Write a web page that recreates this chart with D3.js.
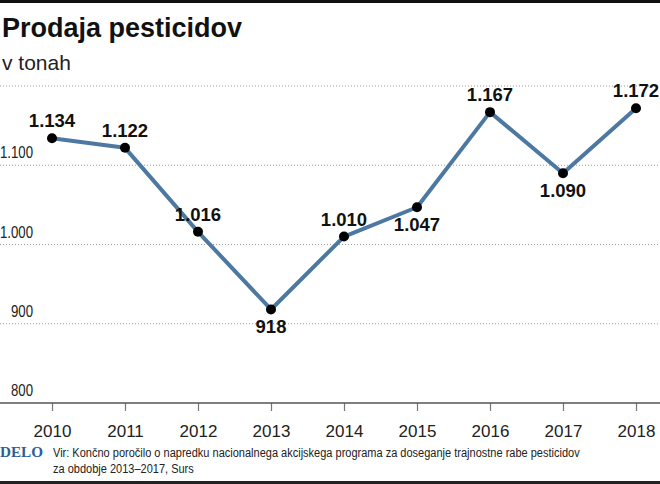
<!DOCTYPE html>
<html lang="sl">
<head>
<meta charset="UTF-8">
<title>Prodaja pesticidov</title>
<style>
  body { margin: 0; background: #fff; }
  svg { display: block; }
</style>
<script src="https://d3js.org/d3.v7.min.js"></script>
</head>
<body>
<svg id="chart" width="660" height="484"></svg>
<script>
  // data
  const years = [2010, 2011, 2012, 2013, 2014, 2015, 2016, 2017, 2018];
  const tonnes = [1134, 1122, 1016, 918, 1010, 1047, 1167, 1090, 1172];
  const labelBelow = [false, false, false, true, false, true, false, true, false];
  const yTicks = [800, 900, 1000, 1100, 1200];

  const svg = d3.select("#chart");
  const W = 660, H = 484;
  const sans = "'Liberation Sans', Arial, sans-serif";

  const fmt = v => d3.format(",")(v).replace(/,/g, ".");

  // squeeze a text horizontally to imitate the condensed newspaper font
  function condense(sel, k) {
    sel.each(function () {
      const len = this.getComputedTextLength();
      d3.select(this).attr("textLength", len * k).attr("lengthAdjust", "spacingAndGlyphs");
    });
  }

  const x = d3.scalePoint().domain(years).range([52, 636]);
  const y = d3.scaleLinear().domain([800, 1200]).range([403, 86]);

  // top and bottom rules
  svg.append("rect").attr("x", 0).attr("y", 0).attr("width", W).attr("height", 3).attr("fill", "#111");
  svg.append("rect").attr("x", 0).attr("y", 481).attr("width", W).attr("height", 3).attr("fill", "#222");

  // title
  svg.append("text")
    .attr("x", 2).attr("y", 37)
    .attr("font-family", sans)
    .attr("font-weight", "bold").attr("font-size", 27)
    .attr("textLength", 240).attr("lengthAdjust", "spacingAndGlyphs")
    .attr("fill", "#111")
    .text("Prodaja pesticidov");

  svg.append("text")
    .attr("x", 2).attr("y", 70)
    .attr("font-family", sans)
    .attr("font-size", 21)
    .attr("fill", "#222")
    .text("v tonah");

  // gridlines
  svg.append("g")
    .selectAll("line")
    .data(yTicks.filter(d => d > 800))
    .enter().append("line")
    .attr("x1", 0).attr("x2", W)
    .attr("y1", d => y(d)).attr("y2", d => y(d))
    .attr("stroke", "#9a9a9a").attr("stroke-width", 1)
    .attr("stroke-dasharray", "1,2");

  // y labels (the top one is not shown)
  svg.append("g")
    .selectAll("text")
    .data(yTicks.filter(d => d < 1200))
    .enter().append("text")
    .attr("x", 33).attr("y", d => y(d) - 7)
    .attr("text-anchor", "end")
    .attr("font-family", sans)
    .attr("font-size", 16.5).attr("fill", "#222")
    .text(fmt)
    .call(condense, 0.8);

  // x axis
  const xAxis = svg.append("g")
    .attr("transform", `translate(0,${y(800)})`)
    .call(d3.axisBottom(x).tickSize(8).tickPadding(14));
  xAxis.select(".domain").remove();
  xAxis.selectAll(".tick line").attr("stroke", "#777").attr("stroke-width", 1.2);
  xAxis.selectAll(".tick text")
    .attr("font-family", sans)
    .attr("font-size", 17).attr("fill", "#222");
  svg.append("line")
    .attr("x1", 0).attr("x2", W)
    .attr("y1", y(800)).attr("y2", y(800))
    .attr("stroke", "#555").attr("stroke-width", 1.5);

  // line
  const pts = years.map((yr, i) => ({ year: yr, v: tonnes[i], below: labelBelow[i] }));
  svg.append("path")
    .datum(pts)
    .attr("fill", "none")
    .attr("stroke", "#4d78a2")
    .attr("stroke-width", 4)
    .attr("stroke-linejoin", "round")
    .attr("d", d3.line().x(d => x(d.year)).y(d => y(d.v)));

  svg.append("g")
    .selectAll("circle")
    .data(pts)
    .enter().append("circle")
    .attr("cx", d => x(d.year)).attr("cy", d => y(d.v))
    .attr("r", 5).attr("fill", "#000");

  svg.append("g")
    .selectAll("text")
    .data(pts)
    .enter().append("text")
    .attr("x", d => x(d.year))
    .attr("y", d => d.below ? y(d.v) + 24 : y(d.v) - 11)
    .attr("text-anchor", "middle")
    .attr("font-family", sans)
    .attr("font-weight", "bold").attr("font-size", 18.5)
    .attr("fill", "#111")
    .text(d => fmt(d.v));

  // footer
  svg.append("text")
    .attr("x", 0).attr("y", 457)
    .attr("font-family", "'Liberation Serif', 'DejaVu Serif', serif")
    .attr("font-weight", "bold").attr("font-size", 15.5)
    .attr("textLength", 43).attr("lengthAdjust", "spacingAndGlyphs")
    .attr("fill", "#2b6192")
    .text("DELO");

  // source note, scaled horizontally as a whole so its box stays inside the page
  const srcLines = [
    "Vir: Končno poročilo o napredku nacionalnega akcijskega programa za doseganje trajnostne rabe pesticidov",
    "za obdobje 2013–2017, Surs"
  ];
  const srcG = svg.append("g");
  const src = srcG.append("text")
    .attr("font-family", sans)
    .attr("font-size", 13.5).attr("fill", "#222");
  src.selectAll("tspan")
    .data(srcLines)
    .enter().append("tspan")
    .attr("x", 0).attr("y", (d, i) => 457 + i * 16)
    .text(d => d);
  const natural = src.select("tspan").node().getComputedTextLength();
  srcG.attr("transform", `translate(53,0) scale(${527 / natural},1)`);
</script>
</body>
</html>
